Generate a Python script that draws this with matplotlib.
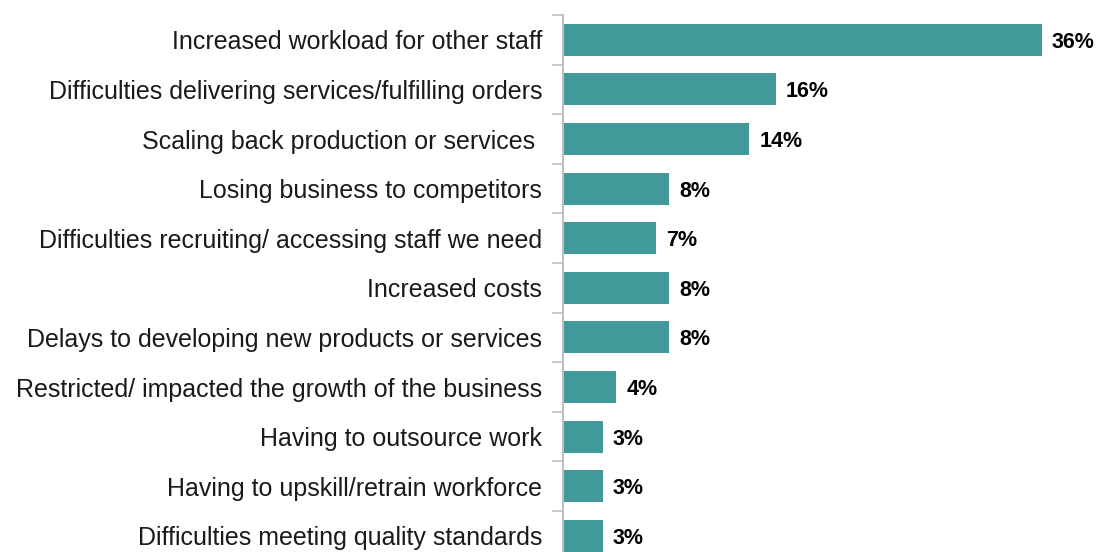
import matplotlib.pyplot as plt

categories = [
    "Increased workload for other staff",
    "Difficulties delivering services/fulfilling orders",
    "Scaling back production or services ",
    "Losing business to competitors",
    "Difficulties recruiting/ accessing staff we need",
    "Increased costs",
    "Delays to developing new products or services",
    "Restricted/ impacted the growth of the business",
    "Having to outsource work",
    "Having to upskill/retrain workforce",
    "Difficulties meeting quality standards",
]
values = [36, 16, 14, 8, 7, 8, 8, 4, 3, 3, 3]

plt.rcParams['font.family'] = ['Liberation Sans', 'DejaVu Sans']

fig = plt.figure(figsize=(10.97, 5.52), dpi=100)
ax = fig.add_axes([0.5132, -0.0156, 0.4367, 0.9884])

pos = list(range(len(categories)))
ax.barh(pos, values, height=0.645, color='#42999A')
for p, v in zip(pos, values):
    ax.text(v + 0.75, p, f"{v}%", va='center_baseline', ha='left',
            fontsize=15.5, fontweight='bold', color='black')

ax.set_ylim(len(categories) - 0.5, -0.5)
ax.set_xlim(0, 36)
ax.set_yticks(pos)
ax.set_yticklabels(categories, fontsize=18, color='#1a1a1a', va='center_baseline')
ax.set_yticks([p - 0.5 for p in pos] + [len(pos) - 0.5], minor=True)
ax.tick_params(axis='y', which='major', length=0, pad=15)
ax.tick_params(axis='y', which='minor', length=8, width=1.2, color='#BFBFBF')
ax.set_xticks([])

for s in ['top', 'right', 'bottom']:
    ax.spines[s].set_visible(False)
ax.spines['left'].set_color('#BFBFBF')
ax.spines['left'].set_linewidth(1.5)

fig.savefig('out.png', dpi=100)
